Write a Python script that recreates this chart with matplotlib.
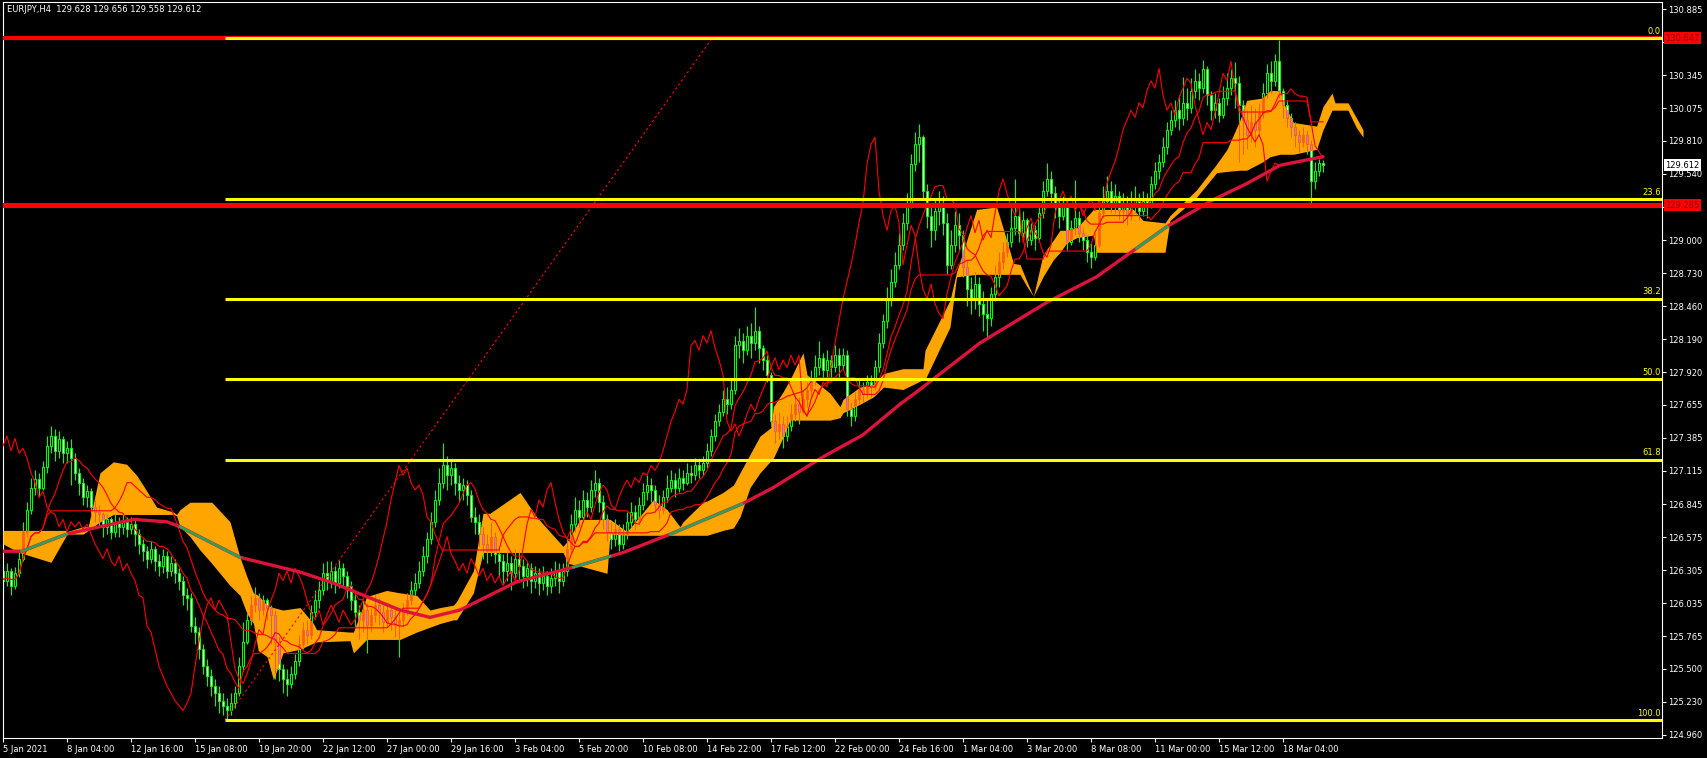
import matplotlib
matplotlib.use("Agg")
import matplotlib.pyplot as plt
import numpy as np
import pandas as pd

# EURJPY H4, one value per bar, bar 0 = 5 Jan 2021 (open of a bar = previous close)
first_open = 126.30
close = [
    126.22, 126.30, 126.18, 126.28, 126.40, 126.62, 126.80, 126.98, 127.05, 126.98,
    127.15, 127.32, 127.40, 127.28, 127.38, 127.26, 127.30, 127.22, 127.10, 127.02,
    126.90, 126.95, 126.82, 126.78, 126.76, 126.66, 126.72, 126.62, 126.70, 126.66,
    126.70, 126.64, 126.68, 126.60, 126.52, 126.46, 126.40, 126.48, 126.38, 126.34,
    126.42, 126.30, 126.36, 126.28, 126.22, 126.10, 126.08, 125.85, 125.80, 125.66,
    125.52, 125.44, 125.36, 125.30, 125.24, 125.20, 125.16, 125.22, 125.30, 125.52,
    125.72, 125.90, 126.02, 126.08, 125.98, 126.06, 126.00, 125.94, 125.72, 125.50,
    125.42, 125.38, 125.46, 125.56, 125.70, 125.82, 125.78, 125.96, 126.06, 126.14,
    126.28, 126.22, 126.30, 126.20, 126.32, 126.26, 126.18, 126.06, 125.96, 125.90,
    125.98, 125.86, 125.94, 126.02, 125.96, 125.88, 125.98, 125.92, 125.86, 125.90,
    125.98, 126.06, 126.14, 126.20, 126.30, 126.42, 126.56, 126.70, 126.88, 127.02,
    127.16, 127.08, 127.14, 127.02, 126.96, 127.00, 126.92, 126.74, 126.70, 126.60,
    126.52, 126.46, 126.58, 126.44, 126.38, 126.30, 126.36, 126.28, 126.40, 126.34,
    126.26, 126.32, 126.22, 126.28, 126.20, 126.26, 126.18, 126.24, 126.30, 126.22,
    126.30, 126.48, 126.68, 126.80, 126.74, 126.88, 126.82, 126.96, 127.02, 126.86,
    126.72, 126.62, 126.56, 126.64, 126.52, 126.60, 126.70, 126.78, 126.72, 126.84,
    126.94, 127.00, 126.96, 126.84, 126.80, 126.90, 126.98, 127.04, 126.98, 127.06,
    127.02, 127.10, 127.08, 127.16, 127.12, 127.18, 127.28, 127.40, 127.52, 127.60,
    127.70, 127.66, 127.78, 128.14, 128.18, 128.10, 128.22, 128.16, 128.26, 128.12,
    128.02, 127.90, 127.52, 127.44, 127.50, 127.40, 127.48, 127.58, 127.66, 127.60,
    127.70, 127.78, 127.86, 127.96, 128.04, 127.94, 128.02, 127.96, 128.06, 127.98,
    128.06, 127.62, 127.56, 127.70, 127.78, 127.74, 127.84, 127.80, 127.96, 128.16,
    128.34, 128.52, 128.66, 128.80, 128.96, 129.14, 129.30, 129.62, 129.78, 129.84,
    129.40, 129.20, 129.08, 129.24, 129.28, 129.14, 128.80, 128.96, 129.12, 129.04,
    128.78, 128.60, 128.52, 128.64, 128.48, 128.40, 128.36, 128.56, 128.70, 128.82,
    128.90, 128.98, 129.10, 129.20, 129.06, 129.16, 129.00, 129.08, 129.02, 129.22,
    129.40, 129.50, 129.38, 129.28, 129.20, 129.30, 128.98, 129.10, 129.18, 129.06,
    129.00, 128.90, 128.86, 128.96, 129.22, 129.32, 129.40, 129.30, 129.36, 129.24,
    129.30, 129.20, 129.28, 129.34, 129.24, 129.32, 129.28, 129.46, 129.56, 129.64,
    129.76, 129.90, 129.98, 130.06, 130.00, 130.12, 130.08, 130.22, 130.30, 130.24,
    130.40, 130.18, 130.06, 130.12, 130.02, 130.16, 130.24, 130.32, 130.28, 130.10,
    129.98, 129.86, 129.96, 129.90, 130.04, 130.20, 130.36, 130.30, 130.46, 130.22,
    130.10, 130.00, 129.92, 129.86, 129.80, 129.86, 129.78, 129.48, 129.56, 129.628, 129.612,
]
high = [
    126.34, 126.36, 126.32, 126.33, 126.45, 126.70, 126.86, 127.06, 127.12, 127.10,
    127.20, 127.40, 127.48, 127.46, 127.44, 127.40, 127.36, 127.38, 127.26, 127.14,
    127.06, 127.00, 126.98, 126.88, 126.84, 126.78, 126.76, 126.74, 126.76, 126.74,
    126.76, 126.74, 126.74, 126.72, 126.64, 126.56, 126.50, 126.54, 126.50, 126.44,
    126.48, 126.46, 126.42, 126.40, 126.32, 126.26, 126.16, 126.12, 125.92, 125.84,
    125.70, 125.58, 125.50, 125.42, 125.36, 125.30, 125.26, 125.30, 125.36, 125.60,
    125.88, 125.96, 126.10, 126.17, 126.12, 126.10, 126.08, 126.02, 125.98, 125.76,
    125.54, 125.50, 125.52, 125.62, 125.78, 125.88, 125.90, 126.02, 126.14, 126.22,
    126.36, 126.38, 126.38, 126.34, 126.39, 126.36, 126.30, 126.22, 126.12, 126.02,
    126.06, 126.04, 126.00, 126.10, 126.08, 126.02, 126.04, 126.02, 125.98, 125.98,
    126.04, 126.12, 126.22, 126.28, 126.38, 126.50, 126.62, 126.78, 126.96, 127.14,
    127.34, 127.24, 127.20, 127.18, 127.08, 127.06, 127.04, 126.96, 126.82, 126.76,
    126.66, 126.60, 126.70, 126.62, 126.50, 126.44, 126.46, 126.42, 126.48, 126.46,
    126.40, 126.38, 126.36, 126.34, 126.32, 126.34, 126.30, 126.32, 126.38, 126.36,
    126.36, 126.56, 126.76, 126.90, 126.88, 126.96, 126.94, 127.04, 127.12, 127.06,
    126.92, 126.76, 126.70, 126.72, 126.68, 126.68, 126.78, 126.86, 126.84, 126.90,
    127.02, 127.08, 127.06, 127.00, 126.92, 126.96, 127.08, 127.12, 127.10, 127.14,
    127.12, 127.18, 127.16, 127.22, 127.20, 127.24, 127.34, 127.46, 127.58, 127.66,
    127.78, 127.80, 127.86, 128.22, 128.28, 128.24, 128.30, 128.32, 128.45, 128.30,
    128.14, 128.06, 127.92, 127.58, 127.60, 127.56, 127.56, 127.66, 127.74, 127.72,
    127.78, 127.84, 127.94, 128.06, 128.18, 128.08, 128.10, 128.06, 128.14, 128.12,
    128.12, 128.10, 127.68, 127.76, 127.86, 127.84, 127.90, 127.90, 128.02, 128.24,
    128.40, 128.62, 128.76, 128.90, 129.06, 129.22, 129.38, 129.70, 129.88, 129.95,
    129.86, 129.46, 129.30, 129.34, 129.40, 129.36, 129.22, 129.08, 129.24, 129.22,
    129.08, 128.84, 128.70, 128.74, 128.70, 128.58, 128.52, 128.62, 128.80, 128.90,
    128.98, 129.06, 129.30, 129.50, 129.26, 129.24, 129.18, 129.14, 129.12, 129.30,
    129.48, 129.63, 129.56, 129.44, 129.34, 129.36, 129.32, 129.16, 129.49, 129.24,
    129.10, 129.04, 128.98, 129.06, 129.30, 129.44, 129.52, 129.48, 129.46, 129.40,
    129.38, 129.36, 129.40, 129.44, 129.38, 129.40, 129.38, 129.52, 129.64, 129.70,
    129.84, 129.96, 130.06, 130.14, 130.18, 130.33, 130.24, 130.32, 130.40, 130.36,
    130.47, 130.42, 130.22, 130.20, 130.16, 130.26, 130.36, 130.40, 130.45, 130.34,
    130.14, 130.06, 130.10, 130.08, 130.12, 130.28, 130.44, 130.46, 130.52, 130.63,
    130.24, 130.14, 130.04, 129.96, 129.90, 129.92, 129.90, 129.82, 129.64, 129.66, 129.656,
]
low = [
    126.12, 126.18, 126.10, 126.15, 126.25, 126.38, 126.58, 126.76, 126.92, 126.90,
    126.96, 127.10, 127.26, 127.20, 127.22, 127.18, 127.18, 127.00, 127.04, 126.92,
    126.84, 126.82, 126.74, 126.70, 126.66, 126.58, 126.60, 126.56, 126.58, 126.58,
    126.60, 126.58, 126.60, 126.50, 126.44, 126.38, 126.32, 126.36, 126.30, 126.26,
    126.28, 126.24, 126.26, 126.20, 126.14, 126.02, 125.98, 125.80, 125.70, 125.58,
    125.46, 125.36, 125.28, 125.20, 125.14, 125.12, 125.082, 125.12, 125.18, 125.28,
    125.48, 125.70, 125.86, 125.96, 125.90, 125.94, 125.90, 125.70, 125.42, 125.40,
    125.30, 125.28, 125.34, 125.42, 125.52, 125.66, 125.70, 125.74, 125.92, 126.00,
    126.10, 126.14, 126.16, 126.12, 126.16, 126.18, 126.08, 125.98, 125.84, 125.74,
    125.80, 125.63, 125.80, 125.88, 125.86, 125.80, 125.84, 125.82, 125.76, 125.60,
    125.84, 125.94, 126.02, 126.10, 126.16, 126.26, 126.36, 126.52, 126.66, 126.84,
    126.98, 126.96, 127.00, 126.92, 126.86, 126.88, 126.84, 126.70, 126.60, 126.50,
    126.40, 126.36, 126.42, 126.36, 126.26, 126.20, 126.22, 126.14, 126.24, 126.22,
    126.16, 126.18, 126.12, 126.16, 126.10, 126.14, 126.10, 126.12, 126.18, 126.12,
    126.18, 126.26, 126.44, 126.62, 126.66, 126.70, 126.74, 126.78, 126.90, 126.78,
    126.64, 126.54, 126.48, 126.50, 126.46, 126.48, 126.56, 126.66, 126.64, 126.68,
    126.80, 126.88, 126.86, 126.78, 126.72, 126.76, 126.86, 126.94, 126.90, 126.94,
    126.96, 127.00, 127.02, 127.04, 127.06, 127.08, 127.14, 127.24, 127.36, 127.48,
    127.56, 127.58, 127.62, 127.74, 128.04, 128.00, 128.06, 128.04, 128.10, 128.00,
    127.94, 127.84, 127.48, 127.34, 127.38, 127.30, 127.36, 127.44, 127.52, 127.50,
    127.58, 127.64, 127.72, 127.82, 127.90, 127.86, 127.88, 127.86, 127.92, 127.88,
    127.94, 127.56, 127.48, 127.52, 127.66, 127.68, 127.72, 127.72, 127.78, 127.92,
    128.12, 128.28, 128.46, 128.62, 128.76, 128.92, 129.08, 129.26, 129.56, 129.64,
    129.34, 129.10, 128.94, 129.00, 129.12, 129.04, 128.72, 128.76, 128.90, 128.92,
    128.70, 128.46, 128.40, 128.44, 128.38, 128.26, 128.19, 128.30, 128.50, 128.62,
    128.76, 128.86, 128.94, 129.04, 128.98, 129.00, 128.94, 128.96, 128.92, 129.00,
    129.18, 129.36, 129.30, 129.18, 129.10, 129.16, 128.92, 128.96, 129.04, 128.98,
    128.92, 128.82, 128.77, 128.84, 128.94, 129.18, 129.28, 129.22, 129.22, 129.16,
    129.14, 129.12, 129.16, 129.22, 129.16, 129.20, 129.18, 129.26, 129.42, 129.50,
    129.60, 129.70, 129.86, 129.92, 129.90, 129.94, 129.98, 130.04, 130.16, 130.14,
    130.20, 130.10, 129.98, 130.00, 129.96, 130.00, 130.10, 130.18, 130.08, 129.64,
    129.70, 129.74, 129.80, 129.76, 129.86, 130.00, 130.16, 130.20, 130.26, 130.16,
    130.00, 129.92, 129.84, 129.76, 129.72, 129.76, 129.70, 129.30, 129.42, 129.52, 129.558,
]

# Ichimoku cloud edges (bar index, upper edge, lower edge)
cloud_x = [
    0, 4, 12, 15.5, 16, 20, 21.3, 24.25, 27.6, 30.9,
    33.4, 35, 38.4, 42.6, 43.4, 44.25, 46.75, 49.25, 52.2, 56.75,
    59.25, 61, 62.6, 63.8, 66, 67.6, 70, 74.25, 77.6, 78.4,
    86.75, 87.6, 90.9, 95.9, 99.25, 103.4, 106.75, 109.25, 112.6, 113.4,
    117.6, 120, 121.75, 129.25, 133.4, 140, 141.3, 144.25, 151, 151.75,
    156, 162.6, 166, 169.25, 170, 175, 176, 180, 182.6, 184.25,
    186.75, 189.25, 192, 192.6, 195, 196.75, 200, 201, 206.75, 209.25,
    210, 214.25, 217.6, 220.1, 225, 230, 230.5, 236.75, 238.4, 243.4,
    248.4, 250, 252.6, 254.25, 256, 257.6, 260, 262.6, 264.25, 266,
    268.5, 272.6, 273.4, 282.6, 285, 290.5, 291.75, 298.4, 303.4, 306,
    309.25, 310.9, 315, 316.75, 319.25, 320.1, 322.6, 328.4, 330, 332.25,
    333, 336.25, 338.3, 340,
]
cloud_top = [
    126.63, 126.63, 126.63, 126.63, 126.62, 126.66, 126.66, 127.10, 127.19, 127.17,
    127.08, 127.00, 126.82, 126.78, 126.76, 126.80, 126.86, 126.86, 126.86, 126.70,
    126.41, 126.25, 126.12, 126.10, 126.02, 126.00, 125.98, 126.00, 125.87, 125.82,
    125.80, 125.80, 126.09, 126.14, 126.12, 126.10, 125.98, 126.00, 126.02, 126.05,
    126.30, 126.77, 126.77, 126.94, 126.74, 126.50, 126.55, 126.72, 126.72, 126.72,
    126.62, 126.88, 126.80, 126.66, 126.70, 126.86, 126.87, 126.94, 127.00, 127.10,
    127.25, 127.40, 127.47, 127.64, 127.76, 127.86, 128.08, 127.90, 127.75, 127.64,
    127.70, 127.80, 127.82, 127.91, 127.95, 127.95, 128.10, 128.51, 128.74, 129.25,
    129.27, 129.10, 128.81, 128.80, 128.66, 128.54, 128.88, 129.00, 129.08, 129.08,
    129.10, 129.25, 129.25, 129.25, 129.16, 129.14, 129.20, 129.41, 129.62, 129.74,
    129.98, 130.14, 130.16, 130.22, 130.22, 130.12, 129.96, 129.93, 130.09, 130.20,
    130.12, 130.12, 130.00, 129.90,
]
cloud_bot = [
    126.52, 126.45, 126.37, 126.57, 126.60, 126.60, 126.63, 126.70, 126.76, 126.76,
    126.76, 126.76, 126.76, 126.76, 126.75, 126.66, 126.58, 126.47, 126.36, 126.18,
    126.10, 125.95, 125.87, 125.65, 125.60, 125.41, 125.63, 125.66, 125.71, 125.72,
    125.73, 125.63, 125.74, 125.74, 125.74, 125.80, 125.84, 125.87, 125.90, 125.90,
    126.12, 126.45, 126.45, 126.45, 126.45, 126.45, 126.36, 126.34, 126.28, 126.60,
    126.59, 126.59, 126.59, 126.59, 126.59, 126.59, 126.59, 126.63, 126.65, 126.74,
    126.98, 127.10, 127.20, 127.22, 127.39, 127.53, 127.53, 127.53, 127.53, 127.55,
    127.59, 127.66, 127.72, 127.80, 127.78, 127.86, 127.86, 128.29, 128.70, 128.72,
    128.72, 128.72, 128.72, 128.72, 128.62, 128.54, 128.70, 128.84, 128.90, 128.98,
    129.02, 129.04, 128.90, 128.90, 128.90, 128.90, 129.16, 129.35, 129.55, 129.56,
    129.57, 129.57, 129.64, 129.68, 129.70, 129.70, 129.70, 129.74, 129.90, 130.06,
    130.06, 130.06, 129.92, 129.84,
]

# moving average
ma_x = [0, 4.7, 15.9, 24.25, 32.6, 41, 44.25, 59.25, 74.25, 82.6,
        90.9, 99.25, 106.75, 109.25, 114.25, 128.4, 142.6, 155.1, 167.6, 185,
        192.6, 205, 215, 224.25, 228.4, 244.25, 260.9, 273.4, 291, 302.6,
        310.9, 319.25, 328.4, 330]
ma_y = [126.46, 126.46, 126.60, 126.66, 126.72, 126.70, 126.66, 126.41, 126.29, 126.20,
        126.09, 125.98, 125.92, 125.94, 125.98, 126.21, 126.33, 126.45, 126.61, 126.85,
        126.98, 127.23, 127.41, 127.66, 127.76, 128.16, 128.49, 128.70, 129.11, 129.33,
        129.46, 129.61, 129.67, 129.68]
ma_green = [(4.7, 15.9), (44.25, 59.25), (142.6, 151.75), (166.75, 184.7), (283.4, 291)]

fib_high = 130.647
fib_low = 125.082
fib_start = 55.5
trend_end = 177.25
fib_levels = [0.0, 23.6, 38.2, 50.0, 61.8, 100.0]
red_lines = [130.647, 129.285]
last_price = 129.612
lag_shift = 11

ytick_vals = [130.885, 130.615, 130.345, 130.075, 129.810, 129.540, 129.270, 129.000,
              128.730, 128.460, 128.190, 127.920, 127.655, 127.385, 127.115, 126.845,
              126.575, 126.305, 126.035, 125.765, 125.500, 125.230, 124.960]
hidden_ticks = [130.615, 129.270]  # covered by the price tags
xtick_labels = ["5 Jan 2021", "8 Jan 04:00", "12 Jan 16:00", "15 Jan 08:00", "19 Jan 20:00",
                "22 Jan 12:00", "27 Jan 00:00", "29 Jan 16:00", "3 Feb 04:00", "5 Feb 20:00",
                "10 Feb 08:00", "14 Feb 22:00", "17 Feb 12:00", "22 Feb 00:00", "24 Feb 16:00",
                "1 Mar 04:00", "3 Mar 20:00", "8 Mar 08:00", "11 Mar 00:00", "15 Mar 12:00",
                "18 Mar 04:00"]
bars_per_label = 16
title = "EURJPY,H4  129.628 129.656 129.558 129.612"

LIME = "#00ff00"
GHOST = "#ff5a14"

c = np.array(close)
h = np.array(high)
l = np.array(low)
o = np.r_[first_open, c[:-1]]
x = np.arange(len(c))
up = c >= o

df = pd.DataFrame({"h": h, "l": l})
tenkan = (df.h.rolling(9, min_periods=1).max() + df.l.rolling(9, min_periods=1).min()) / 2
kijun = (df.h.rolling(26, min_periods=1).max() + df.l.rolling(26, min_periods=1).min()) / 2

W, H = 1708, 758
fig = plt.figure(figsize=(W / 100, H / 100), dpi=100, facecolor="black")
ax = fig.add_axes([2.5 / W, 20 / H, (1662 - 2.5) / W, (738 - 2) / H])
ax.set_facecolor("black")
ax.set_xlim(-0.125, 414.75)
ax.set_ylim(124.9355, 130.943)

# candles
body_lo = np.minimum(o, c)
body_h = np.maximum(np.abs(c - o), 0.004)
ax.vlines(x, l, h, colors=LIME, lw=0.8, zorder=2)
ax.bar(x, body_h, bottom=body_lo, width=0.66, color=np.where(up, "black", "white"),
       edgecolor=LIME, linewidth=0.75, zorder=2.1)

# cloud, candles inside it show through in red/purple
cloud = ax.fill_between(cloud_x, cloud_top, cloud_bot, color="#ffa500", lw=0, zorder=3)
clip = cloud.get_paths()[0]
g1 = ax.vlines(x, l, h, colors=GHOST, lw=0.7, zorder=3.2)
g1.set_clip_path(clip, ax.transData)
g2 = ax.bar(x, body_h, bottom=body_lo, width=0.62, color=np.where(up, "none", "#c07ae8"),
            edgecolor=GHOST, linewidth=0.6, zorder=3.3)
for p in g2:
    p.set_clip_path(clip, ax.transData)

# tenkan, kijun, lagging line
ax.plot(x, tenkan, color="red", lw=0.8, zorder=4)
ax.plot(x, kijun, color="red", lw=0.8, zorder=4)
ax.plot(x[:-lag_shift], c[lag_shift:], color="red", lw=0.8, zorder=4)

# moving average
ax.plot(ma_x, ma_y, color="#dc143c", lw=2.4, zorder=4.5, solid_capstyle="round",
        solid_joinstyle="round")
for a, b in ma_green:
    gx = [a] + [v for v in ma_x if a < v < b] + [b]
    ax.plot(gx, np.interp(gx, ma_x, ma_y), color="#2fa05a", lw=2.0, zorder=4.6)

# horizontal levels
ax.axhline(red_lines[0], color="red", lw=3.0, zorder=5)
ax.axhline(red_lines[1], color="red", lw=3.6, zorder=5)
fib_prices = [fib_high - lv / 100 * (fib_high - fib_low) for lv in fib_levels]
ax.hlines(fib_prices, fib_start, 414.75, color="yellow", lw=2.2, zorder=5.5)
ax.plot([fib_start, trend_end], [fib_low, fib_high], color="red", lw=0.8,
        ls=(0, (2, 2.5)), zorder=5.2)
for lv, fp in zip(fib_levels, fib_prices):
    ax.text(414.4, fp + 0.02, f"{lv:.1f}", color="yellow", fontsize=6, ha="right",
            va="bottom", zorder=6)

# axes styling
for s in ax.spines.values():
    s.set_color("white")
    s.set_linewidth(0.8)
ax.yaxis.tick_right()
ax.set_yticks(ytick_vals)
ax.set_yticklabels(["" if v in hidden_ticks else f"{v:.3f}" for v in ytick_vals])
ax.tick_params(axis="y", colors="white", labelsize=6, length=3, width=0.8, pad=1.5,
               direction="out")
ax.set_xticks(np.arange(len(xtick_labels)) * bars_per_label)
ax.set_xticklabels(xtick_labels)
ax.tick_params(axis="x", colors="white", labelsize=6, length=3, width=0.8, pad=2,
               direction="out")
for lbl in ax.get_xticklabels():
    lbl.set_ha("left")

# price tags on the right scale
tr = ax.get_yaxis_transform()
for p in red_lines:
    ax.text(1.002, p, f"{p:.3f}", transform=tr, color="#8b0000", fontsize=6, va="center",
            ha="left", clip_on=False, zorder=10,
            bbox=dict(boxstyle="square,pad=0.2", fc="red", ec="none"))
ax.text(1.002, last_price, f"{last_price:.3f}", transform=tr, color="black", fontsize=6,
        va="center", ha="left", clip_on=False, zorder=10,
        bbox=dict(boxstyle="square,pad=0.2", fc="white", ec="none"))

fig.text(7 / W, 1 - 9 / H, title, color="white", fontsize=6, va="center", ha="left")

fig.savefig("out.png", dpi=100, facecolor="black")
